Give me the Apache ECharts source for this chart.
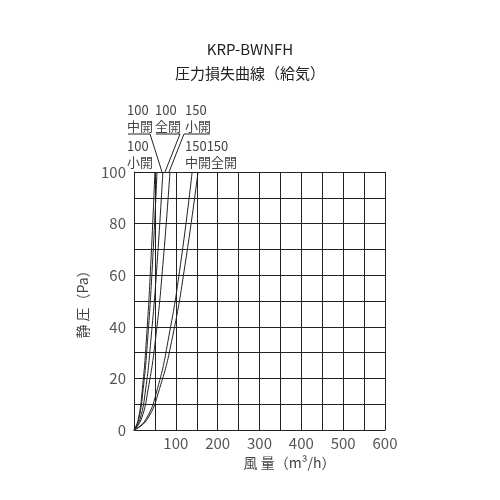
<!DOCTYPE html><html><head><meta charset="utf-8"><script src="https://cdn.jsdelivr.net/npm/echarts@6/dist/echarts.min.js"></script></head><body style="margin:0"><div id="c" style="width:500px;height:500px"></div><script>
const names=['100小開','100中開','100全開','150小開','150中開','150全開'];
const s100small=[[0,0],[10,4],[20,16],[30,36],[40,64],[50,100]];
const s100mid=[[0,0],[11,4],[22,16],[33,36],[44,64],[55,100]];
const s100full=[[0,0],[14,4],[28,16],[41,36],[55,64],[69,100]];
const s150small=[[0,0],[17,4],[34,16],[52,36],[69,64],[86,100]];
const s150mid=[[0,0],[28,4],[56,16],[83,36],[111,64],[139,100]];
const s150full=[[0,0],[31,4],[61,16],[92,36],[122,64],[153,100]];
const all=[s100small,s100mid,s100full,s150small,s150mid,s150full];
const F='"Noto Sans CJK JP",sans-serif';
const ch=echarts.init(document.getElementById('c'));
const tx=(x,y,t,fs)=>({type:'text',left:x,top:y,style:{text:t,font:(fs||13)+'px '+F,fill:'#444',lineHeight:16}});
const ln=(pts)=>({type:'polyline',shape:{points:pts},style:{stroke:'#222',lineWidth:1}});
ch.setOption({
 animation:false,
 title:{text:'KRP-BWNFH\n圧力損失曲線（給気）',left:'center',top:32,textStyle:{fontFamily:F,fontSize:15,fontWeight:'normal',color:'#222',lineHeight:24}},
 grid:{left:134,right:115,top:172,bottom:70},
 xAxis:{type:'value',min:0,max:600,interval:50,name:'風 量（m³/h）',nameLocation:'middle',nameGap:26,nameTextStyle:{fontFamily:F,fontSize:14,color:'#444',padding:[0,0,0,60]},
  axisLine:{lineStyle:{color:'#222'}},axisTick:{show:false},splitLine:{lineStyle:{color:'#222'}},
  axisLabel:{fontFamily:F,fontSize:15,color:'#555',margin:6,formatter:v=>(v>0&&v%100===0)?String(v):''}},
 yAxis:{type:'value',min:0,max:100,interval:10,name:'静 圧（Pa）',nameLocation:'middle',nameGap:38,nameRotate:90,nameTextStyle:{fontFamily:F,fontSize:14,color:'#444'},
  axisLine:{lineStyle:{color:'#222'}},axisTick:{show:false},splitLine:{lineStyle:{color:'#222'}},
  axisLabel:{fontFamily:F,fontSize:15,color:'#555',margin:8,formatter:v=>v%20===0?String(v):''}},
 series:all.map((d,i)=>({name:names[i],type:'line',data:d,smooth:true,showSymbol:false,lineStyle:{color:'#222',width:1}})),
 graphic:[
  tx(127,102,'100\n中開'),tx(155,102,'100\n全開'),tx(185,102,'150\n小開'),
  tx(127,138,'100\n小開'),tx(185,138,'150150\n中開全開'),
  ln([[128,134],[150,134],[162,172]]),ln([[156,134],[180,134],[165,172]]),ln([[210,134],[184,134],[169,172]])
 ]
});
</script></body></html>
